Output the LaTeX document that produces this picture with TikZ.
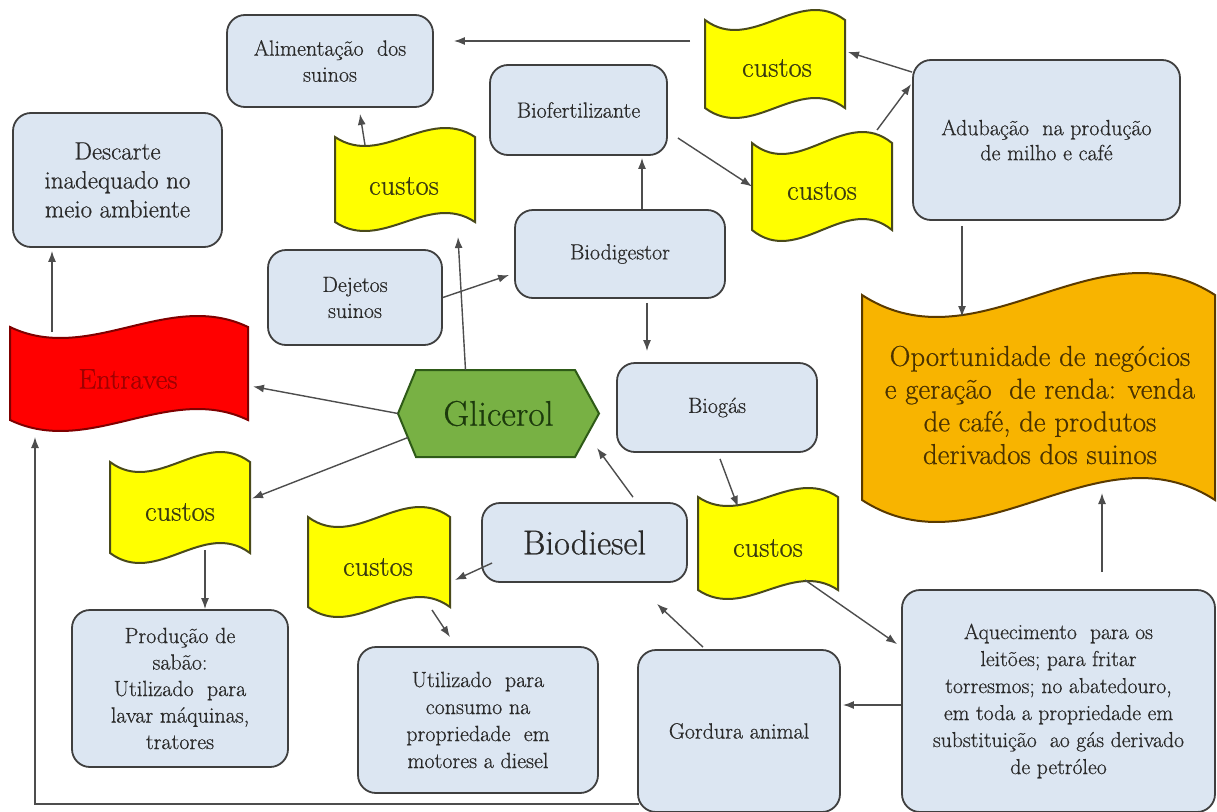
\documentclass[tikz,border=0pt]{standalone}
\usepackage{fontspec}
\setmainfont{Latin Modern Roman}[FakeBold=0.6]
\usetikzlibrary{arrows.meta,calc}
\definecolor{boxfill}{HTML}{DCE6F2}
\definecolor{boxdraw}{HTML}{3F3F3F}
\definecolor{boxtext}{HTML}{2A2A2A}
\definecolor{yelfill}{HTML}{FFFF00}
\definecolor{yeldraw}{HTML}{4A4A1A}
\definecolor{yeltext}{HTML}{3B3B10}
\definecolor{redfill}{HTML}{FF0000}
\definecolor{reddraw}{HTML}{7F0000}
\definecolor{redtext}{HTML}{A00000}
\definecolor{orafill}{HTML}{F8B400}
\definecolor{oradraw}{HTML}{5A3A00}
\definecolor{oratext}{HTML}{4A3200}
\definecolor{grnfill}{HTML}{78B144}
\definecolor{grndraw}{HTML}{2E5A17}
\definecolor{grntext}{HTML}{1C3A0C}
\definecolor{arrcol}{HTML}{4D4D4D}
\newcommand\fsz[2]{\fontsize{#1}{#2}\selectfont}
% x0, yT, x1, yB, amplitude, style
\newcommand\wavefig[6]{%
  \pgfmathsetmacro\wxa{#1+(#3-#1)/3}%
  \pgfmathsetmacro\wxb{#1+2*(#3-#1)/3}%
  \pgfmathsetmacro\wta{#2+3.46*#5}%
  \pgfmathsetmacro\wtb{#2-3.46*#5}%
  \pgfmathsetmacro\wba{#4+3.46*#5}%
  \pgfmathsetmacro\wbb{#4-3.46*#5}%
  \path[#6] (#1,#2) .. controls (\wxa,\wta) and (\wxb,\wtb) .. (#3,#2) -- (#3,#4) .. controls (\wxb,\wbb) and (\wxa,\wba) .. (#1,#4) -- cycle;}
\tikzset{
  bx/.style={draw=boxdraw, fill=boxfill, line width=1.8pt, rounded corners=18pt,
    align=center, text=boxtext, inner sep=0pt},
  wnode/.style={inner sep=0pt, outer sep=0pt, shape=rectangle},
  yelw/.style={draw=yeldraw, fill=yelfill, line width=2pt},
  redw/.style={draw=reddraw, fill=redfill, line width=2pt},
  oraw/.style={draw=oradraw, fill=orafill, line width=2pt},
  custxt/.style={text=yeltext, font=\fsz{28.5}{32}, inner sep=0pt},
  arr/.style={draw=arrcol, line width=1.4pt, -{Latex[length=11pt,width=8pt]}},
}
\begin{document}
\begin{tikzpicture}[x=1pt,y=-1pt]
\useasboundingbox (0,0) rectangle (1217,811);
\fill[white] (0,0) rectangle (1217,811);

% rounded boxes
\node[bx, minimum width=206pt, minimum height=92pt, font=\fsz{22}{26}] (alim) at (330,61) {Alimentação~ dos\\suinos};
\node[bx, minimum width=209pt, minimum height=134pt, font=\fsz{25}{29}] (desc) at (117.5,180) {Descarte\\inadequado no\\meio ambiente};
\node[bx, minimum width=177pt, minimum height=90pt, font=\fsz{22}{26}] (biofert) at (578.5,110) {Biofertilizante};
\node[bx, minimum width=174pt, minimum height=95pt, font=\fsz{22}{26}] (dejetos) at (355,297.5) {Dejetos\\suinos};
\node[bx, minimum width=210pt, minimum height=88pt, font=\fsz{22}{26}] (biodig) at (620,254) {Biodigestor};
\node[bx, minimum width=267pt, minimum height=160pt, font=\fsz{22}{25}] (adub) at (1046.5,140) {Adubação~ na produção\\de milho e café};
\node[bx, minimum width=200pt, minimum height=89pt, font=\fsz{22}{26}] (biogas) at (717,407.5) {Biogás};
\node[bx, minimum width=205pt, minimum height=79pt, font=\fsz{34.5}{38}] (biodiesel) at (584.5,542.5) {Biodiesel};
\node[bx, minimum width=216pt, minimum height=157pt, font=\fsz{22}{26.5}] (prod) at (180,688.5) {Produção de\\sabão:\\Utilizado~ para\\lavar máquinas,\\tratores};
\node[bx, minimum width=240pt, minimum height=146pt, font=\fsz{22}{27}] (util) at (478,720) {Utilizado~ para\\consumo na\\propriedade~ em\\motores a diesel};
\node[bx, minimum width=202pt, minimum height=162pt, font=\fsz{22}{26}] (gord) at (739,731) {Gordura animal};
\node[bx, minimum width=313pt, minimum height=222pt, font=\fsz{21.7}{27}] (aquec) at (1058.5,701) {Aquecimento~ para os\\leitões; para fritar\\torresmos; no abatedouro,\\em toda a propriedade em\\substituição~ ao gás derivado\\de petróleo};

% wave shapes
\wavefig{335}{137}{475}{222}{9}{yelw}
\node[wnode, minimum width=140pt, minimum height=85pt] (c1) at (405,179.5) {};
\node[custxt] (c1t) at (404,186) {custos};

\wavefig{705}{20}{845}{108}{10}{yelw}
\node[wnode, minimum width=140pt, minimum height=88pt] (c2) at (775,64) {};
\node[custxt] (c2t) at (777,68) {custos};

\wavefig{752}{143}{892}{230}{11}{yelw}
\node[wnode, minimum width=140pt, minimum height=87pt] (c3) at (822,186.5) {};
\node[custxt] (c3t) at (822,191) {custos};

\wavefig{698}{497}{838}{590}{9}{yelw}
\node[wnode, minimum width=140pt, minimum height=93pt] (c4) at (768,543.5) {};
\node[custxt] (c4t) at (768,548) {custos};

\wavefig{308}{517}{450}{607}{10}{yelw}
\node[wnode, minimum width=142pt, minimum height=90pt] (c5) at (379,562) {};
\node[custxt] (c5t) at (378,567) {custos};

\wavefig{110}{462}{250}{553}{10}{yelw}
\node[wnode, minimum width=140pt, minimum height=91pt] (c6) at (180,507.5) {};
\node[custxt] (c6t) at (180,512) {custos};

\wavefig{10}{327}{248}{420}{11}{redw}
\node[wnode, minimum width=238pt, minimum height=93pt] (entr) at (129,373.5) {};
\node[text=redtext, font=\fsz{28.5}{32}, inner sep=0pt] (entrt) at (128,379) {Entraves};

\wavefig{862}{295}{1215}{500}{22}{oraw}
\node[wnode, minimum width=353pt, minimum height=205pt] (oport) at (1038.5,397.5) {};
\node[text=oratext, font=\fsz{28.8}{32.7}, align=center, inner sep=0pt] (oportt) at (1040,405) {Oportunidade de negócios\\e geração~ de renda: venda\\de café, de produtos\\derivados dos suinos};

% hexagon
\draw[draw=grndraw, fill=grnfill, line width=2pt] (398,413.5) -- (416,370) -- (575,370) -- (599,413.5) -- (575,457) -- (416,457) -- cycle;
\node[wnode, minimum width=201pt, minimum height=87pt, text=grntext, font=\fsz{35.5}{38}] (glic) at (498.5,413.5) {Glicerol};

% connectors
\draw[arr] ($(entr.north)+(-77,5)$) -- ($(desc.south)+(-65.5,3)$);
\draw[arr] ($(gord.south west)+(2,-9)$) -| ($(entr.south west)+(25,17)$);
\draw[arr] (glic.west) -- ($(entr.east)+(5,13)$);
\draw[arr] ($(glic.west)+(10,24)$) -- ($(c6.east)+(2,-9)$);
\draw[arr] ($(glic.north)+(-33,0)$) -- ($(c1.south)+(53,15)$);
\draw[arr] ($(c1.north)+(-40,8)$) -- ($(alim.south)+(30,6)$);
\draw[arr] ($(c2.west)+(-15,-23)$) -- ($(alim.east)+(20,-20)$);
\draw[arr] ($(adub.north west)+(0,13)$) -- ($(c2.east)+(3,-12)$);
\draw[arr] ($(c3.north east)+(-15,-13)$) -- ($(adub.north west)+(-1,25)$);
\draw[arr] ($(biofert.east)+(10,28)$) -- (c3.west);
\draw[arr] ($(biodig.north)+(22,0)$) -- ($(biofert.south)+(63.5,2)$);
\draw[arr] (dejetos.east) -- ($(biodig.west)+(-5,21)$);
\draw[arr] ($(biodig.south)+(27,4)$) -- ($(biogas.north)+(-70,-11)$);
\draw[arr] ($(biogas.south)+(3,6)$) -- ($(c4.north)+(-30,10)$);
\draw[arr] ($(c4.south east)+(-33,-10)$) -- ($(aquec.north west)+(-4,55)$);
\draw[arr] ($(aquec.west)+(0,4)$) -- ($(gord.east)+(2,-26)$);
\draw[arr] ($(aquec.north)+(43.5,-17)$) -- ($(oport.south)+(63.5,-7)$);
\draw[arr] ($(adub.south)+(-84.5,5)$) -- ($(oport.north)+(-76.5,22)$);
\draw[arr] ($(gord.north)+(-36,-2)$) -- ($(biodiesel.south)+(72.5,21)$);
\draw[arr] ($(biodiesel.north)+(48.5,-5)$) -- ($(glic.east)+(-2,34.5)$);
\draw[arr] ($(biodiesel.west)+(11,20.5)$) -- ($(c5.east)+(5,18)$);
\draw[arr] ($(c5.south east)+(-18,3)$) -- ($(util.north)+(-28,-9)$);
\draw[arr] ($(c6.south)+(25,-3)$) -- ($(prod.north)+(25,0)$);
\end{tikzpicture}
\end{document}
